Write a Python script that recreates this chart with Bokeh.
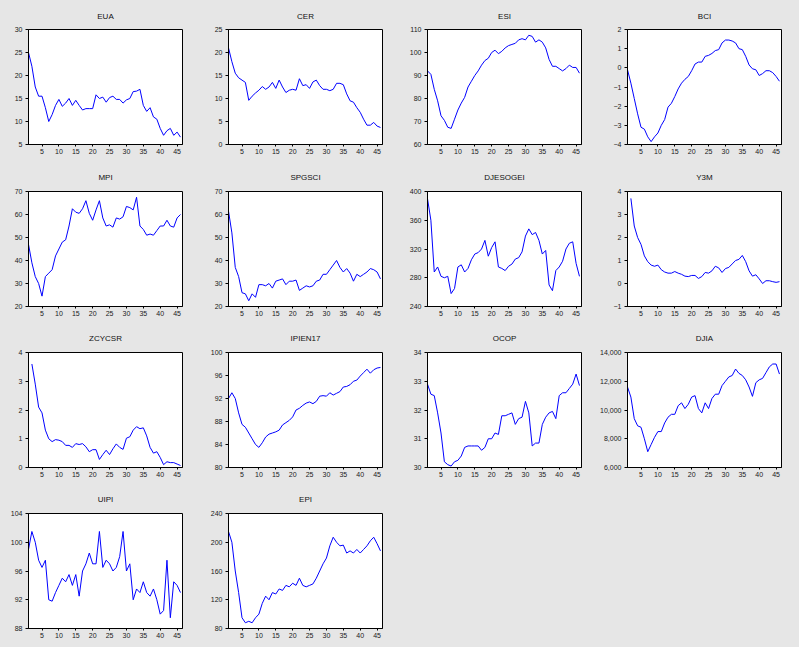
import math
from bokeh.plotting import figure
from bokeh.layouts import column, row
from bokeh.models import Range1d, FixedTicker, NumeralTickFormatter
from bokeh.embed import file_html
from bokeh.resources import INLINE

try:
    from bokeh.models import GlobalInlineStyleSheet
except Exception:
    GlobalInlineStyleSheet = None

NA = float("nan")
obs = list(range(1, 47))
x_ticks = [5, 10, 15, 20, 25, 30, 35, 40, 45]

EUA = [25, 22, 17.5, 15.5, 15.5, 13, 10, 11.5, 13.5, 14.8, 13.3, 14, 15, 13.5, 14.6, 13.5,
       12.5, 12.8, 12.8, 12.8, 15.8, 15, 15.3, 14.2, 15.2, 15.5, 14.8, 14.8, 14, 14.7, 15,
       16.5, 16.6, 17, 13.5, 12.2, 13, 11, 10.5, 8.5, 7, 8, 8.5, 7, 7.7, 6.6]
CER = [21, 18, 15.5, 14.5, 14, 13.5, 9.6, 10.5, 11.2, 11.8, 12.6, 12, 12.5, 13.5, 12.2, 14,
       12.5, 11.3, 11.8, 12, 11.8, 14.3, 12.8, 13, 12.2, 13.6, 14, 12.8, 12, 12, 11.7, 12,
       13.3, 13.3, 13, 11, 9.5, 9.2, 8, 7, 5.5, 4.2, 4.2, 4.8, 4, 3.7]
ESI = [92, 90.5, 84, 79, 72.5, 70.5, 67.5, 67, 71, 75, 78, 80.5, 85, 87.5, 90, 92, 94.5,
       96.5, 97.5, 100, 101, 99.5, 100.5, 102, 103, 103.5, 104, 105.5, 106, 105.5, 107.5,
       107, 104.5, 105.5, 104.5, 102, 97, 94, 94, 93, 92, 93, 94.5, 93.5, 93.5, 91]
BCI = [-0.1, -0.8, -1.6, -2.4, -3.1, -3.2, -3.6, -3.85, -3.6, -3.4, -3.0, -2.7, -2.05, -1.85,
       -1.5, -1.1, -0.8, -0.6, -0.45, -0.15, 0.2, 0.3, 0.3, 0.6, 0.65, 0.75, 0.9, 0.95, 1.3,
       1.45, 1.45, 1.4, 1.3, 1.0, 0.95, 0.6, 0.15, -0.05, -0.1, -0.4, -0.3, -0.15, -0.15,
       -0.25, -0.45, -0.7]
MPI = [47, 39, 33, 30, 24.5, 33, 34.5, 36, 42, 45, 48, 49, 55, 62.5, 61, 60.5, 62.5, 66,
       60.5, 57.5, 62, 66, 58.5, 55, 55.5, 54.5, 58.5, 58, 59, 63.5, 63, 62, 67.5, 55, 53.5,
       51, 51.5, 51, 53, 55, 55, 57.5, 55, 54.5, 58.5, 60]
SPGSCI = [61.5, 52, 37, 33, 26, 25.5, 22.5, 25.5, 24, 29.5, 29.5, 29, 30, 28, 31, 31.5, 32,
          29.5, 31, 31, 31.5, 27, 28, 29, 28.5, 29, 31, 31.5, 34, 34, 36, 38, 40, 37, 35,
          36.5, 34.5, 31, 34, 33, 34, 35, 36.5, 36, 35, 32]
DJESOGEI = [390, 360, 288, 295, 282, 280, 282, 258, 265, 295, 298, 288, 293, 305, 313, 315,
            320, 332, 310, 322, 330, 295, 293, 290, 296, 299, 306, 308, 316, 338, 348, 340,
            343, 332, 313, 318, 270, 262, 290, 295, 303, 320, 328, 330, 300, 282]
Y3M = [NA, 3.7, 2.5, 2.0, 1.7, 1.2, 0.95, 0.8, 0.75, 0.8, 0.6, 0.5, 0.45, 0.45, 0.52, 0.45,
       0.4, 0.32, 0.3, 0.35, 0.35, 0.22, 0.3, 0.48, 0.45, 0.55, 0.75, 0.68, 0.48, 0.65, 0.7,
       0.85, 1.0, 1.05, 1.22, 0.95, 0.55, 0.32, 0.38, 0.2, 0.0, 0.12, 0.12, 0.08, 0.05, 0.08]
ZCYCSR = [NA, 3.6, 2.9, 2.1, 1.9, 1.3, 1.0, 0.9, 0.97, 0.95, 0.9, 0.77, 0.77, 0.7, 0.83, 0.8,
          0.83, 0.72, 0.55, 0.62, 0.62, 0.28, 0.45, 0.6, 0.45, 0.65, 0.82, 0.7, 0.63, 1.02,
          1.07, 1.3, 1.42, 1.35, 1.38, 1.1, 0.7, 0.5, 0.55, 0.35, 0.1, 0.2, 0.17, 0.17, 0.12,
          0.07]
IPIEN17 = [92, 93, 92, 89.5, 87.5, 87, 86, 85, 84, 83.5, 84.3, 85.3, 85.8, 86, 86.2, 86.5,
           87.4, 87.8, 88.2, 88.8, 90, 90.3, 90.8, 91.2, 91.4, 91.1, 91.5, 92.4, 92.5, 92.4,
           93, 92.6, 92.9, 93.2, 94, 94.1, 94.4, 95, 95.2, 95.9, 96.5, 97.1, 96.4, 97, 97.3,
           97.4]
OCOP = [32.9, 32.55, 32.5, 31.9, 31.2, 30.2, 30.1, 30.05, 30.2, 30.25, 30.4, 30.7, 30.75,
        30.75, 30.75, 30.75, 30.6, 30.7, 31.0, 31.0, 31.2, 31.15, 31.8, 31.8, 31.85, 31.9,
        31.5, 31.7, 31.75, 32.3, 31.9, 30.75, 30.85, 30.85, 31.5, 31.75, 31.9, 31.95, 31.7,
        32.5, 32.6, 32.6, 32.75, 32.9, 33.25, 32.85]
DJIA = [11600, 10900, 9400, 8900, 8800, 8000, 7100, 7600, 8100, 8500, 8500, 9100, 9500, 9700,
        9700, 10300, 10500, 10100, 10400, 10900, 11000, 10100, 9800, 10500, 10100, 10800,
        11100, 11100, 11700, 12000, 12300, 12400, 12850, 12550, 12400, 12100, 11600, 10950,
        11900, 12100, 12200, 12600, 13000, 13200, 13200, 12500]
UIPI = [99, 101.5, 100, 97.5, 96.5, 97.5, 92, 91.8, 93, 94, 95, 94.5, 95.5, 94, 95.5, 92.5,
        96, 97, 98.5, 97, 97, 101.5, 96.5, 97.5, 97, 96, 96.5, 98, 101.5, 96, 97, 92, 93.5,
        93, 94.5, 93, 92.5, 93.5, 92, 90, 90.5, 97.5, 89.5, 94.5, 94, 93]
EPI = [215, 200, 160, 130, 95, 88, 90, 88, 95, 100, 115, 125, 120, 130, 128, 135, 133, 140,
       138, 143, 140, 150, 140, 138, 140, 142, 150, 160, 170, 178, 195, 207, 200, 195, 196,
       185, 188, 185, 190, 185, 190, 195, 202, 207, 198, 188]

panels = [
    ("EUA", EUA, [5, 10, 15, 20, 25, 30]),
    ("CER", CER, [0, 5, 10, 15, 20, 25]),
    ("ESI", ESI, [60, 70, 80, 90, 100, 110]),
    ("BCI", BCI, [-4, -3, -2, -1, 0, 1, 2]),
    ("MPI", MPI, [20, 30, 40, 50, 60, 70]),
    ("SPGSCI", SPGSCI, [20, 30, 40, 50, 60, 70]),
    ("DJESOGEI", DJESOGEI, [240, 280, 320, 360, 400]),
    ("Y3M", Y3M, [-1, 0, 1, 2, 3, 4]),
    ("ZCYCSR", ZCYCSR, [0, 1, 2, 3, 4]),
    ("IPIEN17", IPIEN17, [80, 84, 88, 92, 96, 100]),
    ("OCOP", OCOP, [30, 31, 32, 33, 34]),
    ("DJIA", DJIA, [6000, 8000, 10000, 12000, 14000]),
    ("UIPI", UIPI, [88, 92, 96, 100, 104]),
    ("EPI", EPI, [80, 120, 160, 200, 240]),
]

BG = "#e6e6e6"
FONT = "Liberation Sans"
LEFT = [28, 30, 30, 30]
RIGHT = [16, 15, 16, 10]
TOP = [29, 32, 32, 32]
BOTTOM = [15, 14, 14, 9]
TITLE_STANDOFF = [17, 20, 20, 20]


def make_panel(name, vals, yt, c, r):
    p = figure(frame_width=154, frame_height=115,
               min_border_left=LEFT[c], min_border_right=RIGHT[c],
               min_border_top=TOP[r], min_border_bottom=BOTTOM[r],
               x_range=Range1d(1, 46.6), y_range=Range1d(yt[0], yt[-1]),
               output_backend="svg", toolbar_location=None,
               background_fill_color="white", border_fill_color=BG,
               outline_line_color="black", outline_line_width=1)
    p.title.text = name
    p.title.align = "center"
    p.title.text_font = FONT
    p.title.text_font_size = "8px"
    p.title.text_font_style = "normal"
    p.title.text_color = "#111111"
    p.title.standoff = TITLE_STANDOFF[r]
    p.grid.visible = False
    p.line(obs, vals, line_color="#0000ff", line_width=1)
    for ax in (p.xaxis[0], p.yaxis[0]):
        ax.axis_line_color = "black"
        ax.major_tick_line_color = "black"
        ax.minor_tick_line_color = None
        ax.major_tick_in = 0
        ax.major_label_text_font = FONT
        ax.major_label_text_font_size = "7px"
        ax.major_label_text_color = "#1a1a1a"
    p.xaxis[0].ticker = FixedTicker(ticks=x_ticks, minor_ticks=[])
    p.xaxis[0].major_tick_out = 2
    p.xaxis[0].major_label_standoff = 2
    p.yaxis[0].ticker = FixedTicker(ticks=yt, minor_ticks=[])
    p.yaxis[0].major_tick_out = 3
    p.yaxis[0].major_label_standoff = 3
    if name == "DJIA":
        p.yaxis[0].formatter = NumeralTickFormatter(format="0,0")
    return p


rows = []
for i in range(0, len(panels), 4):
    r = i // 4
    figs = []
    for j, (name, vals, yt) in enumerate(panels[i:i + 4]):
        figs.append(make_panel(name, vals, yt, j, r))
    rows.append(row(*figs, spacing=0))

kw = {}
if GlobalInlineStyleSheet is not None:
    kw["stylesheets"] = [GlobalInlineStyleSheet(css="body { background-color: #e6e6e6; }")]
p = column(*rows, spacing=0, styles={"background-color": BG}, **kw)

open("out.html", "w").write(file_html(p, INLINE))
